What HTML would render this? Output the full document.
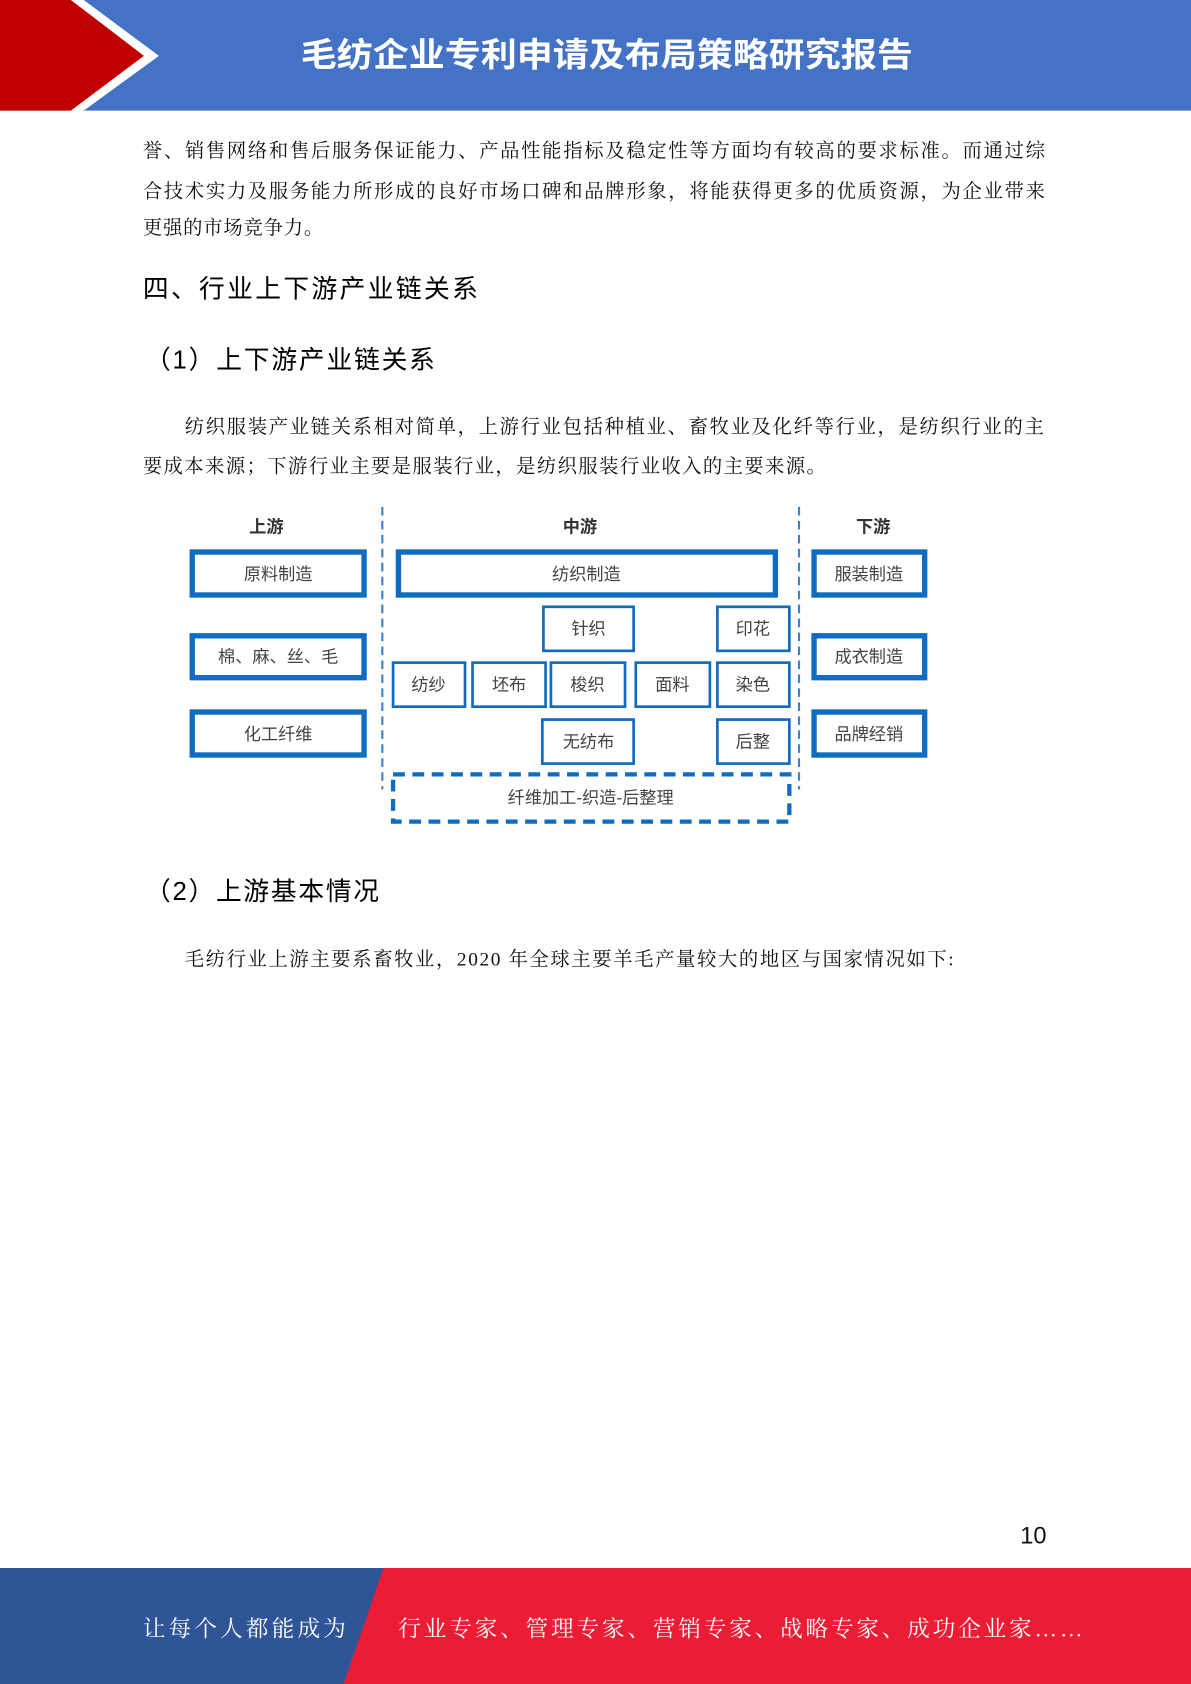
<!DOCTYPE html>
<html><head><meta charset="utf-8"><style>
html,body{margin:0;padding:0;background:#fff;}
svg{display:block;}
.b{font-family:"Liberation Serif","Noto Serif CJK SC",serif;fill:#111;}
.h{font-family:"Liberation Sans","Noto Sans CJK SC",sans-serif;fill:#000;}
.d{font-family:"Liberation Sans","Noto Sans CJK SC",sans-serif;fill:#444;font-size:16px;text-anchor:middle;}
</style></head><body>
<svg width="1191" height="1684" viewBox="0 0 1109 1568" preserveAspectRatio="none" xmlns="http://www.w3.org/2000/svg">
<rect x="0" y="0" width="1109" height="103" fill="#4472c4"/>
<polygon points="0,0 78,0 148,52 78,103 0,103" fill="#fff"/>
<polygon points="0,0 66,0 134,52 66,103 0,103" fill="#c00000"/>
<text x="565" y="62" class="h" font-size="31" font-weight="bold" style="fill:#fff" text-anchor="middle" textLength="570" lengthAdjust="spacingAndGlyphs">毛纺企业专利申请及布局策略研究报告</text>

<text class="b" x="133" y="146" font-size="18" textLength="840" lengthAdjust="spacing">誉、销售网络和售后服务保证能力、产品性能指标及稳定性等方面均有较高的要求标准。而通过综</text>
<text class="b" x="133" y="184" font-size="18" textLength="840" lengthAdjust="spacing">合技术实力及服务能力所形成的良好市场口碑和品牌形象，将能获得更多的优质资源，为企业带来</text>
<text class="b" x="133" y="218" font-size="18" textLength="168" lengthAdjust="spacing">更强的市场竞争力。</text>

<text class="h" x="133" y="277" font-size="24" textLength="312" lengthAdjust="spacing">四、行业上下游产业链关系</text>
<text class="h" x="135" y="343" font-size="24" textLength="270" lengthAdjust="spacing">（1）上下游产业链关系</text>

<text class="b" x="172" y="403" font-size="18" textLength="800" lengthAdjust="spacing">纺织服装产业链关系相对简单，上游行业包括种植业、畜牧业及化纤等行业，是纺织行业的主</text>
<text class="b" x="133" y="440" font-size="18" textLength="636" lengthAdjust="spacing">要成本来源；下游行业主要是服装行业，是纺织服装行业收入的主要来源。</text>

<g>
<line x1="356" y1="472" x2="356" y2="735" stroke="#3b82cf" stroke-width="2" stroke-dasharray="8,5"/>
<line x1="744" y1="472" x2="744" y2="735" stroke="#3b82cf" stroke-width="2" stroke-dasharray="8,5"/>
<text x="248" y="496" class="d" font-weight="bold" style="fill:#333">上游</text>
<text x="540" y="496" class="d" font-weight="bold" style="fill:#333">中游</text>
<text x="813" y="496" class="d" font-weight="bold" style="fill:#333">下游</text>
<g fill="#fff" stroke="#0f6cc0" stroke-width="5">
<rect x="179" y="514" width="160" height="40"/>
<rect x="179" y="592" width="160" height="39"/>
<rect x="179" y="663" width="160" height="40"/>
<rect x="371" y="514" width="351" height="40"/>
<rect x="758" y="514" width="103" height="40"/>
<rect x="758" y="592" width="103" height="39"/>
<rect x="758" y="663" width="103" height="40"/>
</g>
<g fill="#fff" stroke="#0f6cc0" stroke-width="2.5">
<rect x="506" y="565" width="84" height="41"/>
<rect x="668" y="565" width="67" height="41"/>
<rect x="366" y="617" width="67" height="41"/>
<rect x="440" y="617" width="68" height="41"/>
<rect x="513" y="617" width="69" height="41"/>
<rect x="592" y="617" width="69" height="41"/>
<rect x="668" y="617" width="67" height="41"/>
<rect x="505" y="670" width="85" height="41"/>
<rect x="668" y="670" width="67" height="41"/>
</g>
<rect x="366" y="721" width="369" height="44" fill="none" stroke="#0f6cc0" stroke-width="4" stroke-dasharray="11,7"/>
<text x="259" y="540" class="d">原料制造</text>
<text x="259" y="617" class="d">棉、麻、丝、毛</text>
<text x="259" y="689" class="d">化工纤维</text>
<text x="546" y="540" class="d">纺织制造</text>
<text x="809" y="540" class="d">服装制造</text>
<text x="809" y="617" class="d">成衣制造</text>
<text x="809" y="689" class="d">品牌经销</text>
<text x="548" y="591" class="d">针织</text>
<text x="701" y="591" class="d">印花</text>
<text x="399" y="643" class="d">纺纱</text>
<text x="474" y="643" class="d">坯布</text>
<text x="547" y="643" class="d">梭织</text>
<text x="626" y="643" class="d">面料</text>
<text x="701" y="643" class="d">染色</text>
<text x="548" y="696" class="d">无纺布</text>
<text x="701" y="696" class="d">后整</text>
<text x="550" y="748" class="d">纤维加工-织造-后整理</text>
</g>

<text class="h" x="135" y="838" font-size="24" textLength="218" lengthAdjust="spacing">（2）上游基本情况</text>
<text class="b" x="172" y="899" font-size="18" textLength="716" lengthAdjust="spacing">毛纺行业上游主要系畜牧业，2020 年全球主要羊毛产量较大的地区与国家情况如下:</text>

<text class="h" x="950" y="1437" font-size="22" style="fill:#111">10</text>

<rect x="0" y="1460" width="1109" height="108" fill="#ed1c35"/>
<polygon points="0,1460 357,1460 320,1568 0,1568" fill="#2f5597"/>
<text class="b" x="133" y="1524" font-size="21" style="fill:#fff" textLength="189" lengthAdjust="spacing">让每个人都能成为</text>
<text class="b" x="371" y="1524" font-size="21" style="fill:#fff" textLength="637" lengthAdjust="spacing">行业专家、管理专家、营销专家、战略专家、成功企业家……</text>
</svg>
</body></html>
